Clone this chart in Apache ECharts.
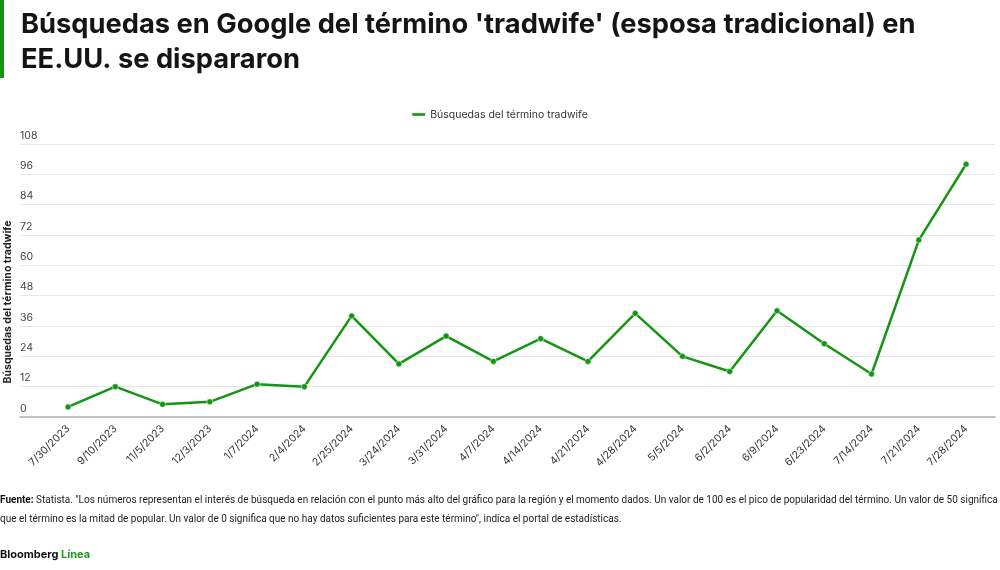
<!DOCTYPE html>
<html>
<head>
<meta charset="utf-8">
<script src="https://cdn.jsdelivr.net/npm/echarts@6/dist/echarts.min.js"></script>
<style>
html,body{margin:0;padding:0;background:#fff;}
#chart{width:1000px;height:570px;}
</style>
</head>
<body>
<div id="chart"></div>
<script>
var categories = ['7/30/2023','9/10/2023','11/5/2023','12/3/2023','1/7/2024','2/4/2024','2/25/2024','3/24/2024','3/31/2024','4/7/2024','4/14/2024','4/21/2024','4/28/2024','5/5/2024','6/2/2024','6/9/2024','6/23/2024','7/14/2024','7/21/2024','7/28/2024'];
var searches = [4,12,5,6,13,12,40,21,32,22,31,22,41,24,18,42,29,17,70,100];
var yTicks = [0,12,24,36,48,60,72,84,96,108];

var GREEN = '#149514';
var FONT = 'Inter, "Liberation Sans", sans-serif';
var chart = echarts.init(document.getElementById('chart'));
chart.setOption({
  backgroundColor: '#fff',
  animation: false,
  color: [GREEN],
  textStyle: {fontFamily: FONT},
  legend: {
    top: 104, left: 'center',
    itemWidth: 13, itemHeight: 4, itemGap: 8,
    icon: 'path://M0,0 L20,0 L20,4 L0,4 Z',
    itemStyle: {color: GREEN, borderWidth: 0, opacity: 1},
    textStyle: {fontSize: 10.5, color: '#333', fontFamily: FONT},
    data: [{name: 'Búsquedas del término tradwife', itemStyle: {color: GREEN}}]
  },
  grid: [
    {left: 20, right: 5, top: 144, bottom: 153},
    {left: 44.4, right: 10.3, top: 144, bottom: 153}
  ],
  xAxis: [
    {gridIndex: 0, type: 'value', min: 0, max: 1, show: true,
     axisLine: {show: true, lineStyle: {color: '#b0b0b0', width: 1.5}},
     axisTick: {show: false}, axisLabel: {show: false}, splitLine: {show: false}},
    {gridIndex: 1, type: 'category', data: categories, boundaryGap: true,
     axisLine: {show: false}, axisTick: {show: false},
     axisLabel: {rotate: 45, fontSize: 10.5, color: '#333', margin: 10, interval: 0, fontFamily: FONT}}
  ],
  yAxis: [
    {gridIndex: 0, type: 'value', min: yTicks[0], max: yTicks[yTicks.length-1], interval: 12,
     axisLine: {show: false}, axisTick: {show: false},
     axisLabel: {inside: true, verticalAlign: 'bottom', align: 'left', margin: 0, padding: [0,0,3,0], fontSize: 10.5, color: '#444', fontFamily: FONT},
     splitLine: {show: true, lineStyle: {color: '#e6e6e6', width: 1}}},
    {gridIndex: 1, type: 'value', min: yTicks[0], max: yTicks[yTicks.length-1], interval: 12, show: false}
  ],
  series: [{
    name: 'Búsquedas del término tradwife',
    type: 'line',
    xAxisIndex: 1, yAxisIndex: 1,
    data: searches,
    color: GREEN,
    symbol: 'circle', symbolSize: 6,
    lineStyle: {color: GREEN, width: 2.5},
    itemStyle: {color: GREEN, borderColor: '#fff', borderWidth: 0.5},
    z: 5
  }],
  graphic: [
    {type: 'rect', left: 0, top: 0, shape: {x: 0, y: 0, width: 4, height: 78}, style: {fill: GREEN}},
    {type: 'text', left: 21, top: 7, style: {
      text: "Búsquedas en Google del término 'tradwife' (esposa tradicional) en\nEE.UU. se dispararon",
      font: '700 27.3px ' + FONT, fill: '#151515', lineHeight: 35}},
    {type: 'text', x: 8, y: 302, rotation: Math.PI/2, style: {
      text: 'Búsquedas del término tradwife', font: '700 10.5px ' + FONT, fill: '#222',
      align: 'center', verticalAlign: 'middle'}},
    {type: 'text', left: 0, top: 491, style: {
      text: '{b|Fuente:} Statista. "Los números representan el interés de búsqueda en relación con el punto más alto del gráfico para la región y el momento dados. Un valor de 100 es el pico de popularidad del término. Un valor de 50 significa\nque el término es la mitad de popular. Un valor de 0 significa que no hay datos suficientes para este término", indica el portal de estadísticas.',
      font: '400 10px Roboto, sans-serif', fill: '#222', lineHeight: 19,
      rich: {b: {fontWeight: 700, fontSize: 10, fontFamily: 'Roboto', fill: '#111'}}}},
    {type: 'text', left: 0, top: 549, style: {
      text: '{a|Bloomberg} {g|Línea}', font: '700 11px ' + FONT,
      rich: {a: {fontWeight: 700, fontSize: 11, fontFamily: FONT, fill: '#111'},
             g: {fontWeight: 700, fontSize: 11, fontFamily: FONT, fill: '#1f9a1f'}}}}
  ]
});
</script>
</body>
</html>
